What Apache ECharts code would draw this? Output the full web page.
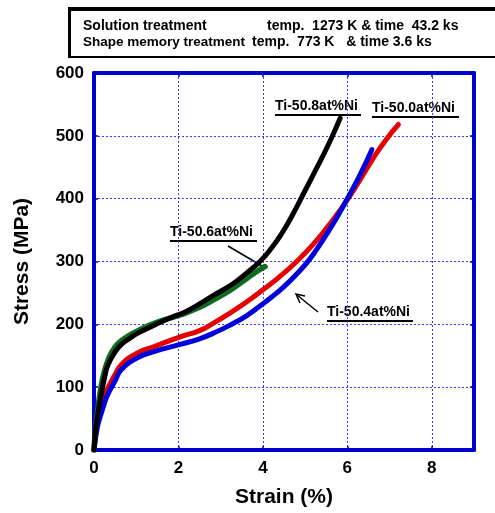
<!DOCTYPE html>
<html><head><meta charset="utf-8">
<script src="https://cdn.jsdelivr.net/npm/echarts@6/dist/echarts.min.js"></script>
<style>html,body{margin:0;padding:0;background:#fff}#c{width:495px;height:513px}</style>
</head><body><div id="c"></div>
<script>
// Ti-50.8at%Ni (black)
const strain508 = [0, 0.05, 0.1, 0.17, 0.25, 0.33, 0.5, 0.65, 0.85, 1.04, 1.44, 1.8, 2.23, 2.83, 3.3, 3.62, 3.93, 4.2, 4.45, 4.7, 5.0, 5.3, 5.6, 5.83];
const stress508 = [0, 40, 62, 88, 115, 135, 156, 168, 178, 186, 199, 210, 222, 246, 265, 282, 300, 321, 345, 374, 413, 452, 493, 528];
// Ti-50.6at%Ni (green)
const strain506 = [0, 0.05, 0.1, 0.17, 0.25, 0.35, 0.49, 0.65, 0.8, 1.04, 1.44, 2.04, 2.5, 2.83, 3.2, 3.62, 3.9, 4.05];
const stress506 = [0, 45, 70, 102, 126, 146, 163, 174, 181, 190, 202, 215, 227, 239, 253, 273, 286, 292];
// Ti-50.0at%Ni (red)
const strain500 = [0, 0.05, 0.1, 0.17, 0.25, 0.33, 0.5, 0.65, 1.04, 1.44, 2.04, 2.5, 2.83, 3.2, 3.62, 4.0, 4.4, 4.8, 5.2, 5.6, 6.0, 6.3, 6.62, 6.93, 7.21];
const stress500 = [0, 30, 50, 68, 85, 99, 120, 136, 155, 165, 180, 190, 202, 217, 236, 255, 276, 300, 328, 361, 398, 430, 465, 495, 518];
// Ti-50.4at%Ni (blue)
const strain504 = [0, 0.05, 0.1, 0.17, 0.25, 0.33, 0.5, 0.65, 1.04, 1.44, 2.04, 2.5, 2.83, 3.2, 3.62, 3.93, 4.2, 4.5, 4.8, 5.1, 5.4, 5.7, 6.0, 6.3, 6.58];
const stress504 = [0, 25, 42, 58, 75, 89, 110, 128, 147, 157, 168, 177, 186, 198, 214, 229, 243, 260, 280, 303, 332, 364, 400, 438, 478];

const xTicks = [0, 2, 4, 6, 8];
const yTicks = [0, 100, 200, 300, 400, 500, 600];

const zip = (a, b) => a.map((v, i) => [v, b[i]]);
const blue = '#0000cc';
const gridBlue = '#3b3bf0';
const FONT = 'Liberation Sans, Arial, sans-serif';

const chart = echarts.init(document.getElementById('c'));
const axisCommon = {
  axisLine: { show: true, onZero: false, lineStyle: { color: blue, width: 4 } },
  axisTick: { show: true, inside: true, length: 4, lineStyle: { color: blue, width: 1.5 } }
};
function mkLine(name, data, color, w) {
  return { name, type: 'line', data, showSymbol: false, symbol: 'none', smooth: 0.5,
    lineStyle: { color, width: w, cap: 'round', join: 'round' }, animation: false };
}
function lbl(text, x, y, w) {
  return [
    { type: 'text', left: x, top: y - 8, style: { text, font: 'bold 14px ' + FONT, fill: '#000' } },
    { type: 'line', shape: { x1: x, y1: y + 8, x2: x + w, y2: y + 8 }, style: { stroke: '#000', lineWidth: 2 } }
  ];
}
function htxt(text, x, y, size) {
  return { type: 'text', left: x, top: y, style: { text, font: 'bold ' + size + 'px ' + FONT, fill: '#000' } };
}
chart.setOption({
  animation: false,
  grid: { left: 94, right: 21, top: 73, bottom: 60 },
  xAxis: [
    Object.assign({}, axisCommon, {
      type: 'value', min: 0, max: 9, interval: 2, position: 'bottom',
      name: 'Strain (%)', nameLocation: 'middle', nameGap: 37,
      nameTextStyle: { fontSize: 21, fontWeight: 'bold', color: '#000', fontFamily: FONT },
      axisLabel: { fontSize: 17, fontWeight: 'bold', color: '#000', fontFamily: FONT, margin: 10,
        formatter: v => xTicks.includes(v) ? String(v) : '' },
      splitLine: { show: true, lineStyle: { color: gridBlue, width: 1, type: [2, 2] } }
    }),
    Object.assign({}, axisCommon, {
      type: 'value', min: 0, max: 9, interval: 2, position: 'top',
      axisLabel: { show: false }, splitLine: { show: false }
    })
  ],
  yAxis: [
    Object.assign({}, axisCommon, {
      type: 'value', min: 0, max: 600, interval: 100, position: 'left',
      name: 'Stress (MPa)', nameLocation: 'middle', nameGap: 61, nameRotate: 90,
      nameTextStyle: { fontSize: 21, fontWeight: 'bold', color: '#000', fontFamily: FONT },
      axisLabel: { fontSize: 17, fontWeight: 'bold', color: '#000', fontFamily: FONT, margin: 10,
        formatter: v => yTicks.includes(v) ? String(v) : '' },
      splitLine: { show: true, lineStyle: { color: gridBlue, width: 1, type: [2, 2] } }
    }),
    Object.assign({}, axisCommon, {
      type: 'value', min: 0, max: 600, interval: 100, position: 'right',
      axisLabel: { show: false }, splitLine: { show: false }
    })
  ],
  series: [
    mkLine('Ti-50.0at%Ni', zip(strain500, stress500), '#e60000', 5),
    mkLine('Ti-50.4at%Ni', zip(strain504, stress504), '#0000dd', 5),
    mkLine('Ti-50.6at%Ni', zip(strain506, stress506), '#0f6a22', 5.5),
    mkLine('Ti-50.8at%Ni', zip(strain508, stress508), '#000000', 5)
  ],
  graphic: [
    { type: 'line', shape: { x1: 69, y1: 9, x2: 500, y2: 9 }, style: { stroke: '#000', lineWidth: 4 } },
    { type: 'line', shape: { x1: 69.5, y1: 7, x2: 69.5, y2: 58 }, style: { stroke: '#000', lineWidth: 3 } },
    { type: 'line', shape: { x1: 69, y1: 57, x2: 500, y2: 57 }, style: { stroke: '#000', lineWidth: 2 } },
    htxt('Solution treatment', 83, 19, 14),
    htxt('temp.  1273 K & time  43.2 ks', 267, 19, 14),
    htxt('Shape memory treatment', 83, 35, 13.5),
    htxt('temp.  773 K   & time 3.6 ks', 252, 35, 14),
    ...lbl('Ti-50.8at%Ni', 275, 107, 86),
    ...lbl('Ti-50.0at%Ni', 372, 109, 87),
    ...lbl('Ti-50.6at%Ni', 170, 233, 87),
    ...lbl('Ti-50.4at%Ni', 327, 313, 86),
    { type: 'line', shape: { x1: 228, y1: 246, x2: 262, y2: 266 }, style: { stroke: '#000', lineWidth: 1.5 } },
    { type: 'line', shape: { x1: 318, y1: 312, x2: 297, y2: 295 }, style: { stroke: '#000', lineWidth: 1.5 } },
    { type: 'polyline', shape: { points: [[300, 303], [296, 294], [305, 296]] }, style: { stroke: '#000', lineWidth: 1.5, fill: null } }
  ]
});
</script>
</body></html>
